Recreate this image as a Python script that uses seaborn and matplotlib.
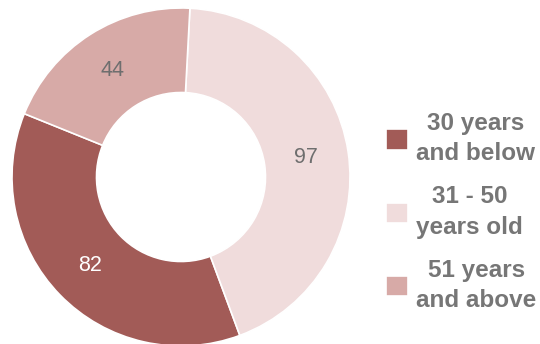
import matplotlib
matplotlib.use("Agg")
import matplotlib.pyplot as plt
import seaborn as sns

groups = ["30 years\nand below", "31 - 50\nyears old", "51 years\nand above"]
employees = [82, 97, 44]
slice_colors = ["#a25b57", "#f0dcdc", "#d7aaa7"]
label_colors = ["white", "#6e6e6e", "#6e6e6e"]

sns.set_theme(style="white")
plt.rcParams['font.family'] = ['Liberation Sans', 'DejaVu Sans']

fig = plt.figure(figsize=(5.4, 3.44), dpi=100)
ax = fig.add_axes([12 / 540, -2 / 344, 338 / 540, 338 / 344])

total = sum(employees)
wedges, texts, autotexts = ax.pie(
    employees,
    colors=slice_colors,
    startangle=158,
    counterclock=True,
    radius=1,
    pctdistance=0.75,
    autopct=lambda p: f"{p * total / 100:.0f}",
    wedgeprops=dict(width=0.5, edgecolor="white", linewidth=1.2),
    textprops=dict(fontsize=15.5),
)
for t, c in zip(autotexts, label_colors):
    t.set_color(c)

ax.set_xlim(-1, 1)
ax.set_ylim(-1, 1)
ax.set_aspect("equal")
ax.axis("off")

# legend on the right, centred two-line labels
leg = fig.legend(
    wedges, groups,
    loc="center left", bbox_to_anchor=(386 / 540, 132 / 344),
    frameon=False,
    prop=dict(weight="bold", size=17.5),
    labelcolor="#767676",
    handlelength=0.9, handleheight=0.9, handletextpad=0.35,
    labelspacing=0.82, borderpad=0, borderaxespad=0,
)
for t in leg.get_texts():
    t.set_multialignment("center")
    t.set_linespacing(1.4)

fig.savefig("out.png", dpi=100)
